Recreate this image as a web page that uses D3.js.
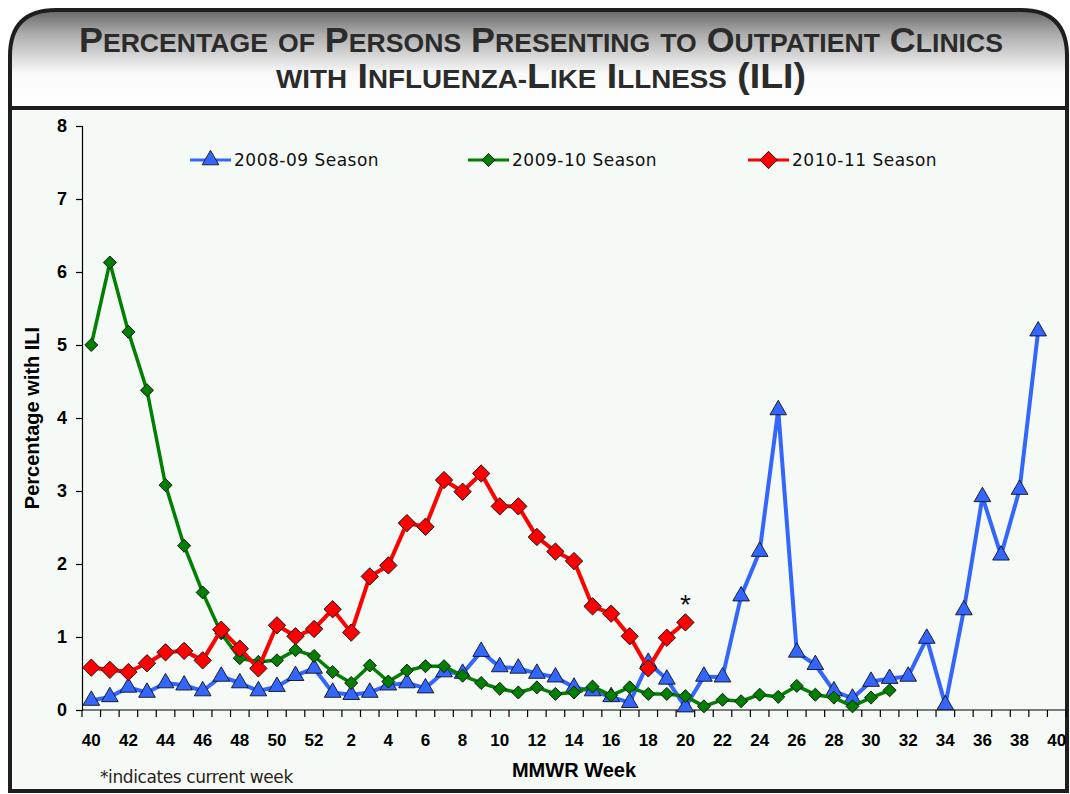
<!DOCTYPE html>
<html>
<head>
<meta charset="utf-8">
<script src="https://cdn.jsdelivr.net/npm/d3@7"></script>
<style>
  body { margin: 0; background: #ffffff; }
  svg { display: block; }
</style>
</head>
<body>
<div id="chart"></div>
<script>
// week labels, one per category on the x axis
var weeks = [40, 41, 42, 43, 44, 45, 46, 47, 48, 49, 50, 51, 52,
  1, 2, 3, 4, 5, 6, 7, 8, 9, 10, 11, 12, 13, 14, 15, 16, 17, 18, 19, 20,
  21, 22, 23, 24, 25, 26, 27, 28, 29, 30, 31, 32, 33, 34, 35, 36, 37, 38, 39, 40];

var yTicks = [0, 1, 2, 3, 4, 5, 6, 7, 8];

var seasonNames = ["2008-09 Season", "2009-10 Season", "2010-11 Season"];

var season0809 = [0.13, 0.18, 0.31, 0.24, 0.37, 0.34, 0.26, 0.46, 0.37, 0.26, 0.32, 0.47, 0.57,
  0.24, 0.21, 0.24, 0.34, 0.37, 0.30, 0.52, 0.50, 0.80, 0.59,
  0.57, 0.50, 0.45, 0.31, 0.26, 0.18, 0.10, 0.65, 0.42, 0.04,
  0.46, 0.45, 1.56, 2.17, 4.11, 0.79, 0.62, 0.26, 0.16, 0.39,
  0.43, 0.46, 0.98, 0.07, 1.37, 2.92, 2.12, 3.02, 5.19];

var season0910 = [5.00, 6.13, 5.18, 4.38, 3.08, 2.25, 1.61, 1.05, 0.71, 0.66, 0.68, 0.82, 0.74,
  0.52, 0.37, 0.61, 0.39, 0.54, 0.60, 0.60, 0.47, 0.37, 0.29,
  0.24, 0.31, 0.22, 0.24, 0.32, 0.20, 0.31, 0.22, 0.22, 0.19,
  0.05, 0.14, 0.12, 0.21, 0.18, 0.33, 0.21, 0.17, 0.05, 0.17,
  0.27];

var season1011 = [0.58, 0.55, 0.52, 0.64, 0.79, 0.81, 0.68, 1.10, 0.84, 0.57, 1.16, 1.01, 1.11,
  1.38, 1.06, 1.83, 1.98, 2.56, 2.51, 3.15, 2.99, 3.24, 2.79,
  2.79, 2.37, 2.17, 2.04, 1.42, 1.32, 1.01, 0.57, 0.99, 1.20];

var titleLines = ["Percentage of Persons Presenting to Outpatient Clinics",
  "with Influenza-Like Illness (ILI)"];

var svgWidth = 1070;
var svgHeight = 794;

var margin = { top: 126, right: 4, bottom: 84, left: 82 };
var width = svgWidth - margin.left - margin.right;
var height = svgHeight - margin.top - margin.bottom;

var svg = d3.select("#chart")
  .append("svg")
  .attr("width", svgWidth)
  .attr("height", svgHeight);

// header gradient
var defs = svg.append("defs");
var grad = defs.append("linearGradient")
  .attr("id", "headGrad")
  .attr("x1", 0).attr("y1", 0).attr("x2", 0).attr("y2", 1);
grad.append("stop").attr("offset", "0%").attr("stop-color", "#666666");
grad.append("stop").attr("offset", "25%").attr("stop-color", "#adadad");
grad.append("stop").attr("offset", "65%").attr("stop-color", "#fafafa");
grad.append("stop").attr("offset", "100%").attr("stop-color", "#ffffff");

var fx0 = 10, fy0 = 10, fx1 = 1067, fy1 = 791, rad = 46, headBottom = 108;

// header and plot panels
svg.append("path")
  .attr("d", "M" + fx0 + "," + headBottom + " V" + (fy0 + rad) +
    " Q" + fx0 + "," + fy0 + " " + (fx0 + rad) + "," + fy0 +
    " H" + (fx1 - rad) + " Q" + fx1 + "," + fy0 + " " + fx1 + "," + (fy0 + rad) +
    " V" + headBottom + " Z")
  .attr("fill", "url(#headGrad)");

svg.append("rect")
  .attr("x", fx0).attr("y", headBottom)
  .attr("width", fx1 - fx0).attr("height", fy1 - headBottom)
  .attr("fill", "#f5faf6");

// frame
svg.append("path")
  .attr("d", "M" + fx0 + "," + fy1 + " V" + (fy0 + rad) +
    " Q" + fx0 + "," + fy0 + " " + (fx0 + rad) + "," + fy0 +
    " H" + (fx1 - rad) + " Q" + fx1 + "," + fy0 + " " + fx1 + "," + (fy0 + rad) +
    " V" + fy1 + " Z")
  .attr("fill", "none")
  .attr("stroke", "#1e1e1e")
  .attr("stroke-width", 4);

svg.append("line")
  .attr("x1", fx0).attr("x2", fx1)
  .attr("y1", headBottom).attr("y2", headBottom)
  .attr("stroke", "#1e1e1e")
  .attr("stroke-width", 4);

// title in small caps: capitals big, lower case letters as small capitals
var titleY = [52, 88];
var titleLen = [924, 530];
titleLines.forEach(function (line, i) {
  var t = svg.append("text")
    .attr("x", 541)
    .attr("y", titleY[i])
    .attr("text-anchor", "middle")
    .attr("font-family", "'Liberation Sans Narrow', 'Liberation Sans', Arial, sans-serif")
    .attr("font-weight", "bold")
    .attr("fill", "#2b2b2b")
    .attr("textLength", titleLen[i])
    .attr("lengthAdjust", "spacingAndGlyphs");
  var chars = line.split("");
  chars.forEach(function (c) {
    var small = (c !== c.toUpperCase()) || c === "-";
    t.append("tspan")
      .attr("font-size", small ? 26 : 35)
      .text(c.toUpperCase());
  });
});

var chartGroup = svg.append("g")
  .attr("transform", `translate(${margin.left}, ${margin.top})`);

var xBand = d3.scaleBand()
  .domain(d3.range(weeks.length))
  .range([0, width])
  .padding(0);

var yLinearScale = d3.scaleLinear()
  .domain([0, 8])
  .range([height, 0]);

function xPos(i) {
  return xBand(i) + xBand.bandwidth() / 2;
}

// x axis: ticks at category boundaries, labels every other week
var xAxisG = chartGroup.append("g")
  .attr("transform", `translate(0, ${height})`);

xAxisG.append("line")
  .attr("x1", 0).attr("x2", width)
  .attr("y1", 0).attr("y2", 0)
  .attr("stroke", "#000").attr("stroke-width", 1.2);

xAxisG.selectAll(".xtick")
  .data(d3.range(weeks.length + 1))
  .enter()
  .append("line")
  .attr("x1", d => d * xBand.step())
  .attr("x2", d => d * xBand.step())
  .attr("y1", 0).attr("y2", 7)
  .attr("stroke", "#000").attr("stroke-width", 1.2);

xAxisG.selectAll(".xlabel")
  .data(d3.range(0, weeks.length, 2))
  .enter()
  .append("text")
  .attr("x", d => xPos(d))
  .attr("y", 36)
  .attr("text-anchor", "middle")
  .attr("font-family", "'Liberation Sans', Arial, sans-serif")
  .attr("font-weight", "bold")
  .attr("font-size", 17)
  .attr("fill", "#000")
  .text(d => weeks[d]);

// y axis
var leftAxis = d3.axisLeft(yLinearScale)
  .tickValues(yTicks)
  .tickSize(6)
  .tickPadding(9)
  .tickFormat(d3.format("d"));

var yAxisG = chartGroup.append("g").call(leftAxis);
yAxisG.select(".domain").attr("stroke-width", 1.2);
yAxisG.selectAll(".tick line").attr("stroke-width", 1.2);
yAxisG.selectAll(".tick text")
  .attr("font-family", "'Liberation Sans', Arial, sans-serif")
  .attr("font-weight", "bold")
  .attr("font-size", 18)
  .attr("fill", "#000");

// axis titles
svg.append("text")
  .attr("transform", "translate(39, 418) rotate(-90)")
  .attr("text-anchor", "middle")
  .attr("font-family", "'Liberation Sans', Arial, sans-serif")
  .attr("font-weight", "bold")
  .attr("font-size", 20)
  .attr("fill", "#000")
  .text("Percentage with ILI");

svg.append("text")
  .attr("x", 574)
  .attr("y", 777)
  .attr("text-anchor", "middle")
  .attr("font-family", "'Liberation Sans', Arial, sans-serif")
  .attr("font-weight", "bold")
  .attr("font-size", 20)
  .attr("fill", "#000")
  .text("MMWR Week");

svg.append("text")
  .attr("x", 100)
  .attr("y", 783)
  .attr("font-family", "'DejaVu Sans', Verdana, sans-serif")
  .attr("font-size", 17)
  .attr("letter-spacing", -0.4)
  .attr("fill", "#2a1e18")
  .text("*indicates current week");

// series
var series = [
  { name: seasonNames[0], values: season0809, color: "#3366ff", stroke: 4, shape: "triangle", size: 120 },
  { name: seasonNames[1], values: season0910, color: "#008000", stroke: 3.5, shape: "diamond", size: 85 },
  { name: seasonNames[2], values: season1011, color: "#ff0000", stroke: 4, shape: "diamond", size: 150 }
];

function markerPath(s) {
  if (s.shape === "triangle") {
    return d3.symbol().type(d3.symbolTriangle).size(s.size)();
  }
  return d3.symbol().type(d3.symbolSquare).size(s.size)();
}

var line = d3.line()
  .x((d, i) => xPos(i))
  .y(d => yLinearScale(d));

series.forEach(function (s) {
  var g = chartGroup.append("g");
  g.append("path")
    .datum(s.values)
    .attr("d", line)
    .attr("fill", "none")
    .attr("stroke", s.color)
    .attr("stroke-width", s.stroke)
    .attr("stroke-linejoin", "round");

  g.selectAll("path.marker")
    .data(s.values)
    .enter()
    .append("path")
    .attr("class", "marker")
    .attr("d", markerPath(s))
    .attr("transform", (d, i) => `translate(${xPos(i)}, ${yLinearScale(d)})` +
      (s.shape === "diamond" ? " rotate(45)" : ""))
    .attr("fill", s.color)
    .attr("stroke", "#111")
    .attr("stroke-width", 0.9);
});

// current week marker
var lastIdx = season1011.length - 1;
chartGroup.append("text")
  .attr("x", xPos(lastIdx))
  .attr("y", yLinearScale(season1011[lastIdx]) - 8)
  .attr("text-anchor", "middle")
  .attr("font-family", "'Liberation Sans', Arial, sans-serif")
  .attr("font-size", 28)
  .attr("fill", "#111")
  .text("*");

// legend
var legendX = [190, 468, 748];
var legend = svg.append("g");
series.forEach(function (s, i) {
  var lg = legend.append("g")
    .attr("transform", `translate(${legendX[i]}, 160)`);
  lg.append("line")
    .attr("x1", 0).attr("x2", 41)
    .attr("y1", 0).attr("y2", 0)
    .attr("stroke", s.color)
    .attr("stroke-width", 3);
  lg.append("path")
    .attr("d", markerPath(s))
    .attr("transform", "translate(20.5, 0)" + (s.shape === "diamond" ? " rotate(45)" : ""))
    .attr("fill", s.color)
    .attr("stroke", "#111")
    .attr("stroke-width", 0.9);
  lg.append("text")
    .attr("x", 44)
    .attr("y", 6)
    .attr("font-family", "'DejaVu Sans', Verdana, sans-serif")
    .attr("font-size", 17)
    .attr("letter-spacing", 0.5)
    .attr("fill", "#111")
    .text(s.name);
});
</script>
</body>
</html>
